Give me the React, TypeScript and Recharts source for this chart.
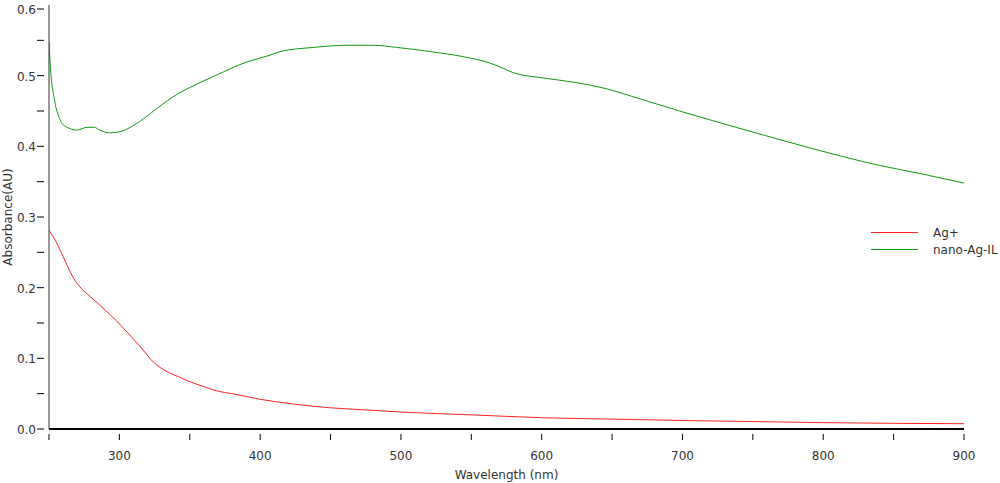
import { LineChart, Line, XAxis, YAxis } from "recharts";

// Ag+ spectrum (red)
const agWavelength = [250, 255, 260, 267, 272, 279, 290, 298, 306, 315, 324, 334, 342, 350, 360, 369, 380, 390, 400, 410, 425, 450, 475, 500, 550, 600, 650, 700, 750, 800, 850, 900];
const agAbsorbance = [0.281, 0.265, 0.244, 0.215, 0.201, 0.188, 0.168, 0.153, 0.136, 0.116, 0.095, 0.081, 0.074, 0.067, 0.06, 0.054, 0.05, 0.046, 0.042, 0.039, 0.035, 0.03, 0.027, 0.024, 0.02, 0.016, 0.014, 0.012, 0.0105, 0.009, 0.008, 0.0075];

// nano-Ag-IL spectrum (green)
const nanoWavelength = [250, 251, 254, 258, 262, 270, 277, 282, 286, 293, 300, 312, 322, 338, 355, 367, 390, 407, 414, 438, 461, 480, 497, 521, 544, 563, 572, 580, 604, 625, 645, 670, 698, 745, 792, 840, 870, 900];
const nanoAbsorbance = [0.548, 0.512, 0.465, 0.437, 0.428, 0.423, 0.427, 0.427, 0.423, 0.419, 0.4205, 0.432, 0.4465, 0.47, 0.488, 0.499, 0.519, 0.529, 0.534, 0.54, 0.543, 0.543, 0.54, 0.534, 0.527, 0.518, 0.511, 0.504, 0.496, 0.49, 0.482, 0.467, 0.45, 0.423, 0.397, 0.373, 0.361, 0.348];

const xTicks = [250, 300, 350, 400, 450, 500, 550, 600, 650, 700, 750, 800, 850, 900];
const yTicks = [0, 0.05, 0.1, 0.15, 0.2, 0.25, 0.3, 0.35, 0.4, 0.45, 0.5, 0.55, 0.6];

const agData = agWavelength.map((x, i) => ({ x, y: agAbsorbance[i] }));
const nanoData = nanoWavelength.map((x, i) => ({ x, y: nanoAbsorbance[i] }));

const series = [
  { name: "Ag+", color: "#ff2020", data: agData },
  { name: "nano-Ag-IL", color: "#119911", data: nanoData },
];

const FONT = "'DejaVu Sans', sans-serif";

const XTick = (props: any) => {
  const { x, y, payload } = props;
  const v = payload.value;
  const major = v % 100 === 0;
  return (
    <g>
      <line x1={x} x2={x} y1={y - 3} y2={y + 3} stroke="#000" />
      {major && v !== 250 && (
        <text x={x} y={y + 23} textAnchor="middle" fontSize={12} fill="#333" fontFamily={FONT}>
          {v}
        </text>
      )}
    </g>
  );
};

const YTick = (props: any) => {
  const { x, y, payload } = props;
  const v = payload.value;
  const major = Math.round(v * 100) % 10 === 0;
  return (
    <g>
      <line x1={x - 4} x2={x + 3} y1={y} y2={y} stroke="#000" />
      {major && (
        <text x={x - 5} y={y + 5} textAnchor="end" fontSize={12} fill="#333" fontFamily={FONT}>
          {v.toFixed(1)}
        </text>
      )}
    </g>
  );
};

const YLabel = () => (
  <text
    x={0}
    y={0}
    transform="translate(12, 217) rotate(-90)"
    textAnchor="middle"
    fontSize={12}
    fill="#333"
    fontFamily={FONT}
  >
    Absorbance(AU)
  </text>
);

export default function App() {
  return (
    <div style={{ position: "absolute", left: 0, top: 0, width: 1000, height: 483, background: "#fff" }}>
      <LineChart width={1000} height={483} margin={{ top: 5, right: 36, left: 0, bottom: 0 }}>
        <XAxis
          type="number"
          dataKey="x"
          domain={[250, 900]}
          ticks={xTicks}
          allowDataOverflow
          height={54}
          axisLine={{ stroke: "#000", strokeWidth: 2 }}
          tickLine={false}
          tick={<XTick />}
          label={{ value: "Wavelength (nm)", position: "insideBottom", offset: 4, fontSize: 12, fill: "#333", fontFamily: FONT }}
        />
        <YAxis
          type="number"
          dataKey="y"
          domain={[0, 0.6]}
          ticks={yTicks}
          width={49}
          axisLine={{ stroke: "#333", strokeWidth: 1 }}
          tickLine={false}
          tick={<YTick />}
          label={<YLabel />}
        />
        {series.map((s) => (
          <Line
            key={s.name}
            data={s.data}
            dataKey="y"
            name={s.name}
            type="monotone"
            stroke={s.color}
            strokeWidth={1}
            dot={false}
            isAnimationActive={false}
          />
        ))}
      </LineChart>
      <div style={{ position: "absolute", left: 871, top: 224, fontFamily: FONT, fontSize: 12, color: "#333" }}>
        {series.map((s) => (
          <div key={s.name} style={{ display: "flex", alignItems: "center", height: 17 }}>
            <div style={{ width: 47, height: 1, background: s.color, marginRight: 15 }} />
            <span>{s.name}</span>
          </div>
        ))}
      </div>
    </div>
  );
}
